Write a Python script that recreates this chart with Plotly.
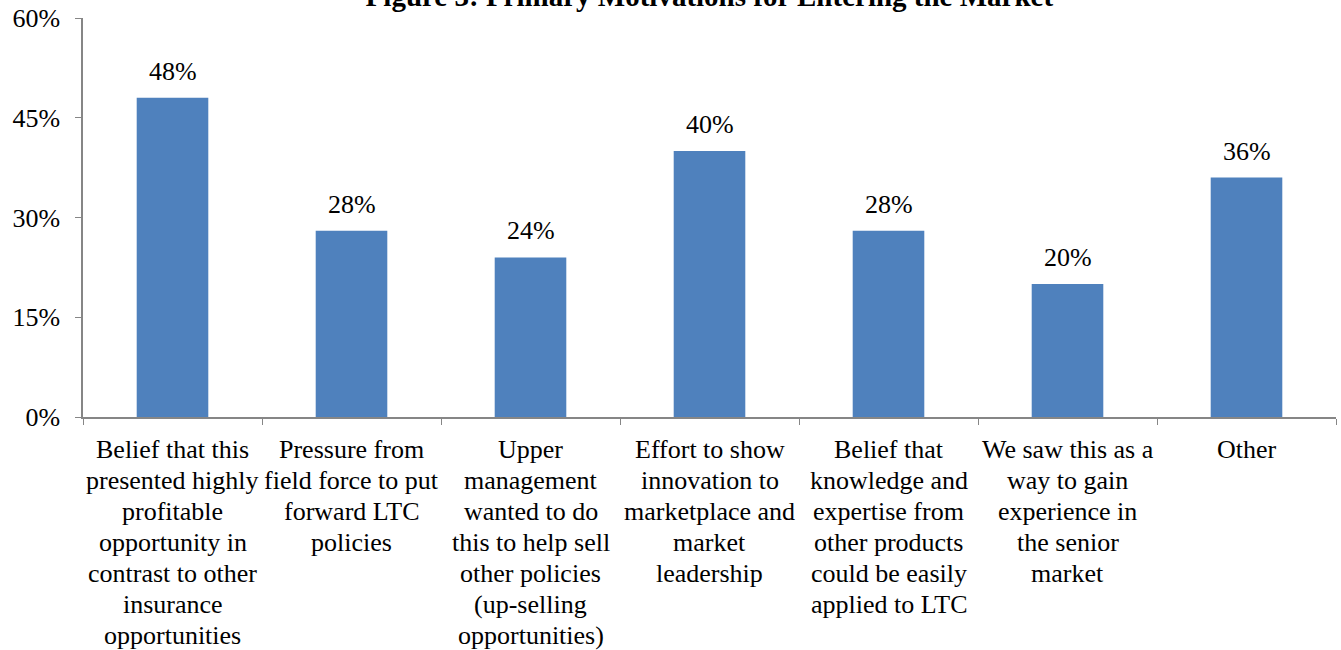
import plotly.graph_objects as go

# Survey categories (category labels, line-broken as displayed)
categories = [
    "Belief that this<br>presented highly<br>profitable<br>opportunity in<br>contrast to other<br>insurance<br>opportunities",
    "Pressure from<br>field force to put<br>forward LTC<br>policies",
    "Upper<br>management<br>wanted to do<br>this to help sell<br>other policies<br>(up-selling<br>opportunities)",
    "Effort to show<br>innovation to<br>marketplace and<br>market<br>leadership",
    "Belief that<br>knowledge and<br>expertise from<br>other products<br>could be easily<br>applied to LTC",
    "We saw this as a<br>way to gain<br>experience in<br>the senior<br>market",
    "Other",
]
shares = [0.48, 0.28, 0.24, 0.40, 0.28, 0.20, 0.36]

y_ticks = [0, 0.15, 0.30, 0.45, 0.60]
title_text = "Figure 3: Primary Motivations for Entering the Market"

SERIF = "Liberation Serif"
AXIS_GREY = "#868686"
BAR_BLUE = "#4F81BD"
FONT_SIZE = 26
LINE_STEP = 31  # px between lines of the category labels

fig = go.Figure(
    go.Bar(
        x=categories,
        y=shares,
        marker=dict(color=BAR_BLUE, line=dict(width=0)),
        hoverinfo="skip",
    )
)

# Value labels above each bar
for cat, val in zip(categories, shares):
    fig.add_annotation(
        x=cat,
        y=val,
        text=f"{val:.0%}",
        showarrow=False,
        yanchor="bottom",
        yshift=10,
        font=dict(family=SERIF, size=FONT_SIZE, color="black"),
    )

# Category labels under the axis, one line at a time for tighter leading
for cat in categories:
    for i, line in enumerate(cat.split("<br>")):
        fig.add_annotation(
            x=cat,
            y=0,
            yref="y",
            text=line,
            showarrow=False,
            xanchor="center",
            yanchor="middle",
            yshift=-LINE_STEP * (i + 1) - 1,
            font=dict(family=SERIF, size=FONT_SIZE, color="black"),
        )

fig.update_layout(
    width=1341,
    height=650,
    margin=dict(l=83, r=5, t=18, b=233),
    paper_bgcolor="white",
    plot_bgcolor="white",
    bargap=0.6,
    showlegend=False,
    font=dict(family=SERIF, size=FONT_SIZE, color="black"),
    title=dict(
        text=f"<b>{title_text}</b>",
        x=0.529,
        xanchor="center",
        xref="container",
        y=1 - 6 / 650,
        yanchor="bottom",
        yref="container",
        font=dict(family=SERIF, size=29, color="black"),
    ),
    xaxis=dict(
        type="category",
        showline=True,
        linecolor=AXIS_GREY,
        linewidth=1.5,
        ticks="outside",
        tickson="boundaries",
        ticklen=6,
        tickcolor=AXIS_GREY,
        showgrid=False,
        showticklabels=False,
    ),
    yaxis=dict(
        range=[0, 0.6],
        tickvals=y_ticks,
        tickformat=".0%",
        showline=True,
        linecolor=AXIS_GREY,
        linewidth=1.5,
        ticks="outside",
        ticklen=6,
        tickcolor=AXIS_GREY,
        showgrid=False,
        zeroline=False,
        tickfont=dict(family=SERIF, size=FONT_SIZE, color="black"),
        ticklabelstandoff=10,
    ),
)

fig.write_html("out.html")
